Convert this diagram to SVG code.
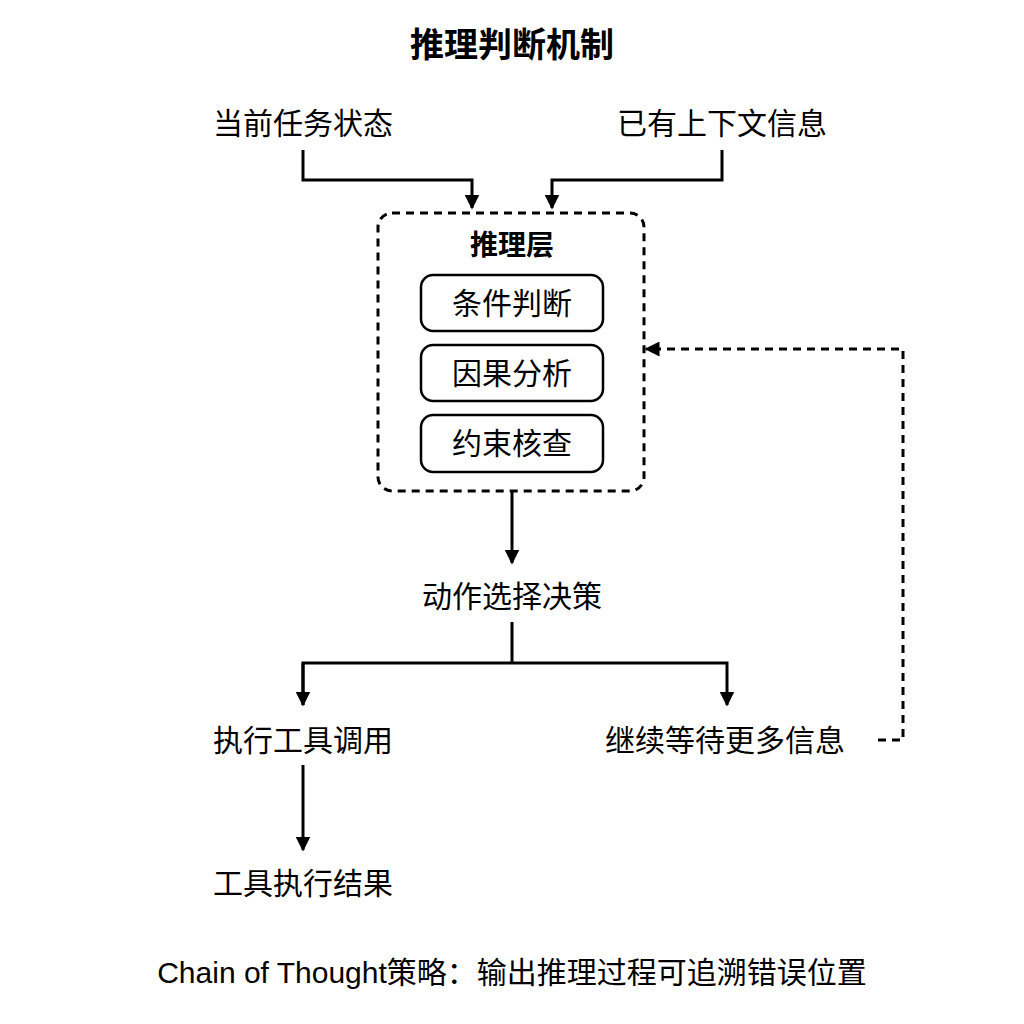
<svg xmlns="http://www.w3.org/2000/svg" width="1024" height="1024" viewBox="0 0 1024 1024">
<style>
text{font-family:"Liberation Sans","Noto Sans CJK SC",sans-serif;fill:#000;text-anchor:middle;dominant-baseline:central}
.t{font-size:30px}
.ln{fill:none;stroke:#000;stroke-width:3}
.d{stroke-dasharray:8 6}
.box{fill:#fff;stroke:#000;stroke-width:2.5}
</style>
<defs><marker id="a" viewBox="0 0 10 10" refX="9" refY="5" markerWidth="5" markerHeight="5" orient="auto"><path d="M0,0L10,5L0,10z"/></marker></defs>
<rect width="1024" height="1024" fill="#fff"/>
<text x="512" y="45" style="font-size:34px;font-weight:bold">推理判断机制</text>
<g id="n1"><text class="t" x="303" y="123">当前任务状态</text></g>
<g id="n2"><text class="t" x="722" y="123">已有上下文信息</text></g>
<g id="layer"><rect x="378" y="213" width="266" height="278" rx="14" class="ln d" stroke-width="2"/>
<text x="512" y="245" style="font-size:28px;font-weight:bold">推理层</text></g>
<g id="b1"><rect class="box" x="421" y="275" width="182" height="56" rx="12"/><text class="t" x="512" y="303">条件判断</text></g>
<g id="b2"><rect class="box" x="421" y="345" width="182" height="56" rx="12"/><text class="t" x="512" y="373">因果分析</text></g>
<g id="b3"><rect class="box" x="421" y="415" width="182" height="57" rx="12"/><text class="t" x="512" y="443">约束核查</text></g>
<g id="n3"><text class="t" x="512" y="596">动作选择决策</text></g>
<g id="n4"><text class="t" x="303" y="740">执行工具调用</text></g>
<g id="n5"><text class="t" x="725" y="740">继续等待更多信息</text></g>
<g id="n6"><text class="t" x="303" y="883">工具执行结果</text></g>
<g id="connectors">
<path class="ln" d="M303,150V180H472V208" marker-end="url(#a)"/>
<path class="ln" d="M722,150V180H552V208" marker-end="url(#a)"/>
<path class="ln" d="M512,491V563" marker-end="url(#a)"/>
<path class="ln" d="M512,622V663" />
<path class="ln" d="M303,705V663H727V705" marker-end="url(#a)"/>
<path class="ln" d="M303,663V705" marker-end="url(#a)"/>
<path class="ln" d="M303,765V850" marker-end="url(#a)"/>
<path class="ln d" stroke-width="2.5" d="M878,740H903V349H646" marker-end="url(#a)"/>
</g>
<text class="t" x="512" y="972">Chain of Thought策略：输出推理过程可追溯错误位置</text>
</svg>
